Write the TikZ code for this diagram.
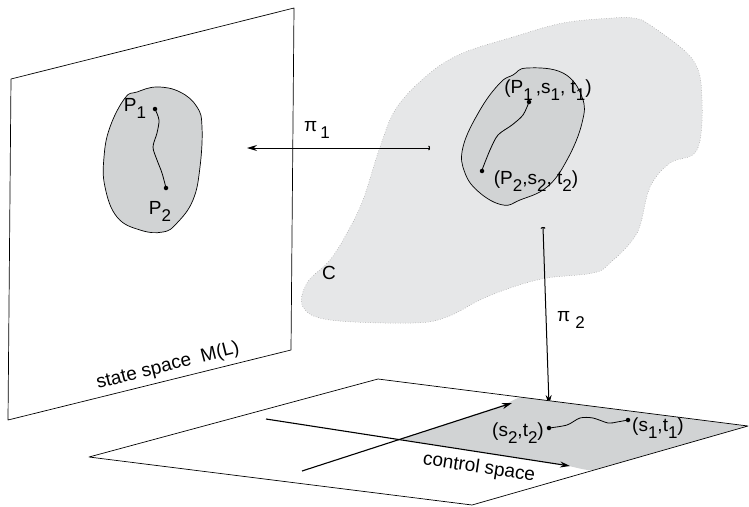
\documentclass[tikz,border=0pt]{standalone}
\usepackage{fontspec}
\setmainfont{Liberation Sans}
\usetikzlibrary{arrows.meta}

\definecolor{regiongray}{RGB}{209,211,212}
\definecolor{cloudgray}{RGB}{230,231,232}
\newcommand{\lowsub}[1]{\raisebox{-0.7ex}{\fontsize{17}{17}\selectfont #1}}

\begin{document}
\begin{tikzpicture}[x=1pt, y=-1pt,
  every node/.style={font=\fontsize{19}{22}\selectfont, inner sep=0pt},
  plane/.style={line width=0.7pt, line join=round},
  proj/.style={line width=1pt, {Arc Barb[length=1.5pt,width=5pt]}-{Stealth[length=10pt,width=6pt]}},
  axis/.style={line width=1.1pt, -{Stealth[length=10pt,width=6pt]}},
  dot/.style={circle, fill=black, minimum size=4.5pt},
  path/.style={line width=0.8pt}]
\useasboundingbox (0,0) rectangle (749,506);

% state space
\draw[plane] (11,79) -- (294,8) -- (291,350) -- (8,420) -- cycle;
\node[rotate=14.3] (mlabel) at (168,366) {state space\ \ M(L)};
\filldraw[fill=regiongray, line width=0.7pt] plot[smooth cycle, tension=0.7] coordinates
  {(157,87) (180,92) (197,107) (202,127) (200,167) (193,200) (177,223) (163,232)
   (140,230) (117,217) (105,187) (104,157) (110,127) (125,98) (137,92)};
\node[dot] (p1) at (155,109) {};
\node[dot] (p2) at (166,188) {};
\draw[path] plot[smooth] coordinates {(155,109) (159,120) (157,133) (153,147) (157,160) (162,173) (166,188)};
\node (p1label) at (135,108) {P\lowsub{1}};
\node (p2label) at (160,211) {P\lowsub{2}};

% the set C
\filldraw[fill=cloudgray, draw=black!45, dotted, line width=0.5pt]
  plot[smooth cycle, tension=0.6] coordinates
  {(633,18) (650,25) (693,60) (702,100) (697,150) (670,163) (650,187) (637,233)
   (610,263) (593,273) (547,278) (513,287) (480,300) (447,317) (413,323) (330,320)
   (303,307) (307,283) (330,260) (347,233) (363,200) (380,147) (397,107) (430,73)
   (463,53) (513,37) (563,23) (613,18)};
\node (clabel) at (329,273) {C};
\filldraw[fill=regiongray, line width=0.7pt] plot[smooth cycle, tension=0.7] coordinates
  {(527,68) (563,73) (582,97) (582,123) (567,160) (547,187) (520,200) (503,205)
   (480,193) (465,173) (463,147) (480,110) (500,83) (513,75)};
\node[dot] (c1) at (529,102) {};
\node[dot] (c2) at (482,171) {};
\draw[path] plot[smooth] coordinates {(529,102) (523,115) (512,125) (498,135) (490,150) (482,170)};
\node (c1label) at (548,90) {(P\lowsub{1}\,,s\lowsub{1}, t\lowsub{1})};
\node (c2label) at (536,181) {(P\lowsub{2},s\lowsub{2}, t\lowsub{2})};

% projections
\coordinate (pionetail) at (430,148);
\coordinate (pionehead) at (247,148);
\draw[proj] (pionetail) -- (pionehead);
\node (pionelabel) at (317,130) {π\,\lowsub{1}};
\coordinate (pitwotail) at (543,227);
\coordinate (pitwohead) at (549,405);
\draw[proj] (pitwotail) -- (pitwohead);
\node (pitwolabel) at (571,320) {π\ \lowsub{2}};

% control space
\fill[regiongray] (400,439) -- (506,404) .. controls (512,401) and (516,398) .. (522,397)
  -- (748,426) -- (594,470) .. controls (588,471) and (578,468) .. (569,466) -- cycle;
\draw[plane] (89,457) -- (378,379) -- (748,426) -- (472,505) -- cycle;
\coordinate (sstart) at (266,419);
\coordinate (send) at (570,466);
\coordinate (tstart) at (302,471);
\coordinate (tend) at (512,403);
\draw[axis] (sstart) -- (send);
\draw[axis] (tstart) -- (tend);
\node[rotate=-8.5] (ctrllabel) at (479,468) {control space};
\node[dot] (u2) at (549,428) {};
\node[dot] (u1) at (628,420) {};
\draw[path] plot[smooth] coordinates {(549,428) (567,425) (580,418) (593,418) (608,423) (617,422) (628,420)};
\node (u2label) at (518,433) {(s\lowsub{2},t\lowsub{2})};
\node (u1label) at (658,428) {(s\lowsub{1},t\lowsub{1})};
\end{tikzpicture}
\end{document}
